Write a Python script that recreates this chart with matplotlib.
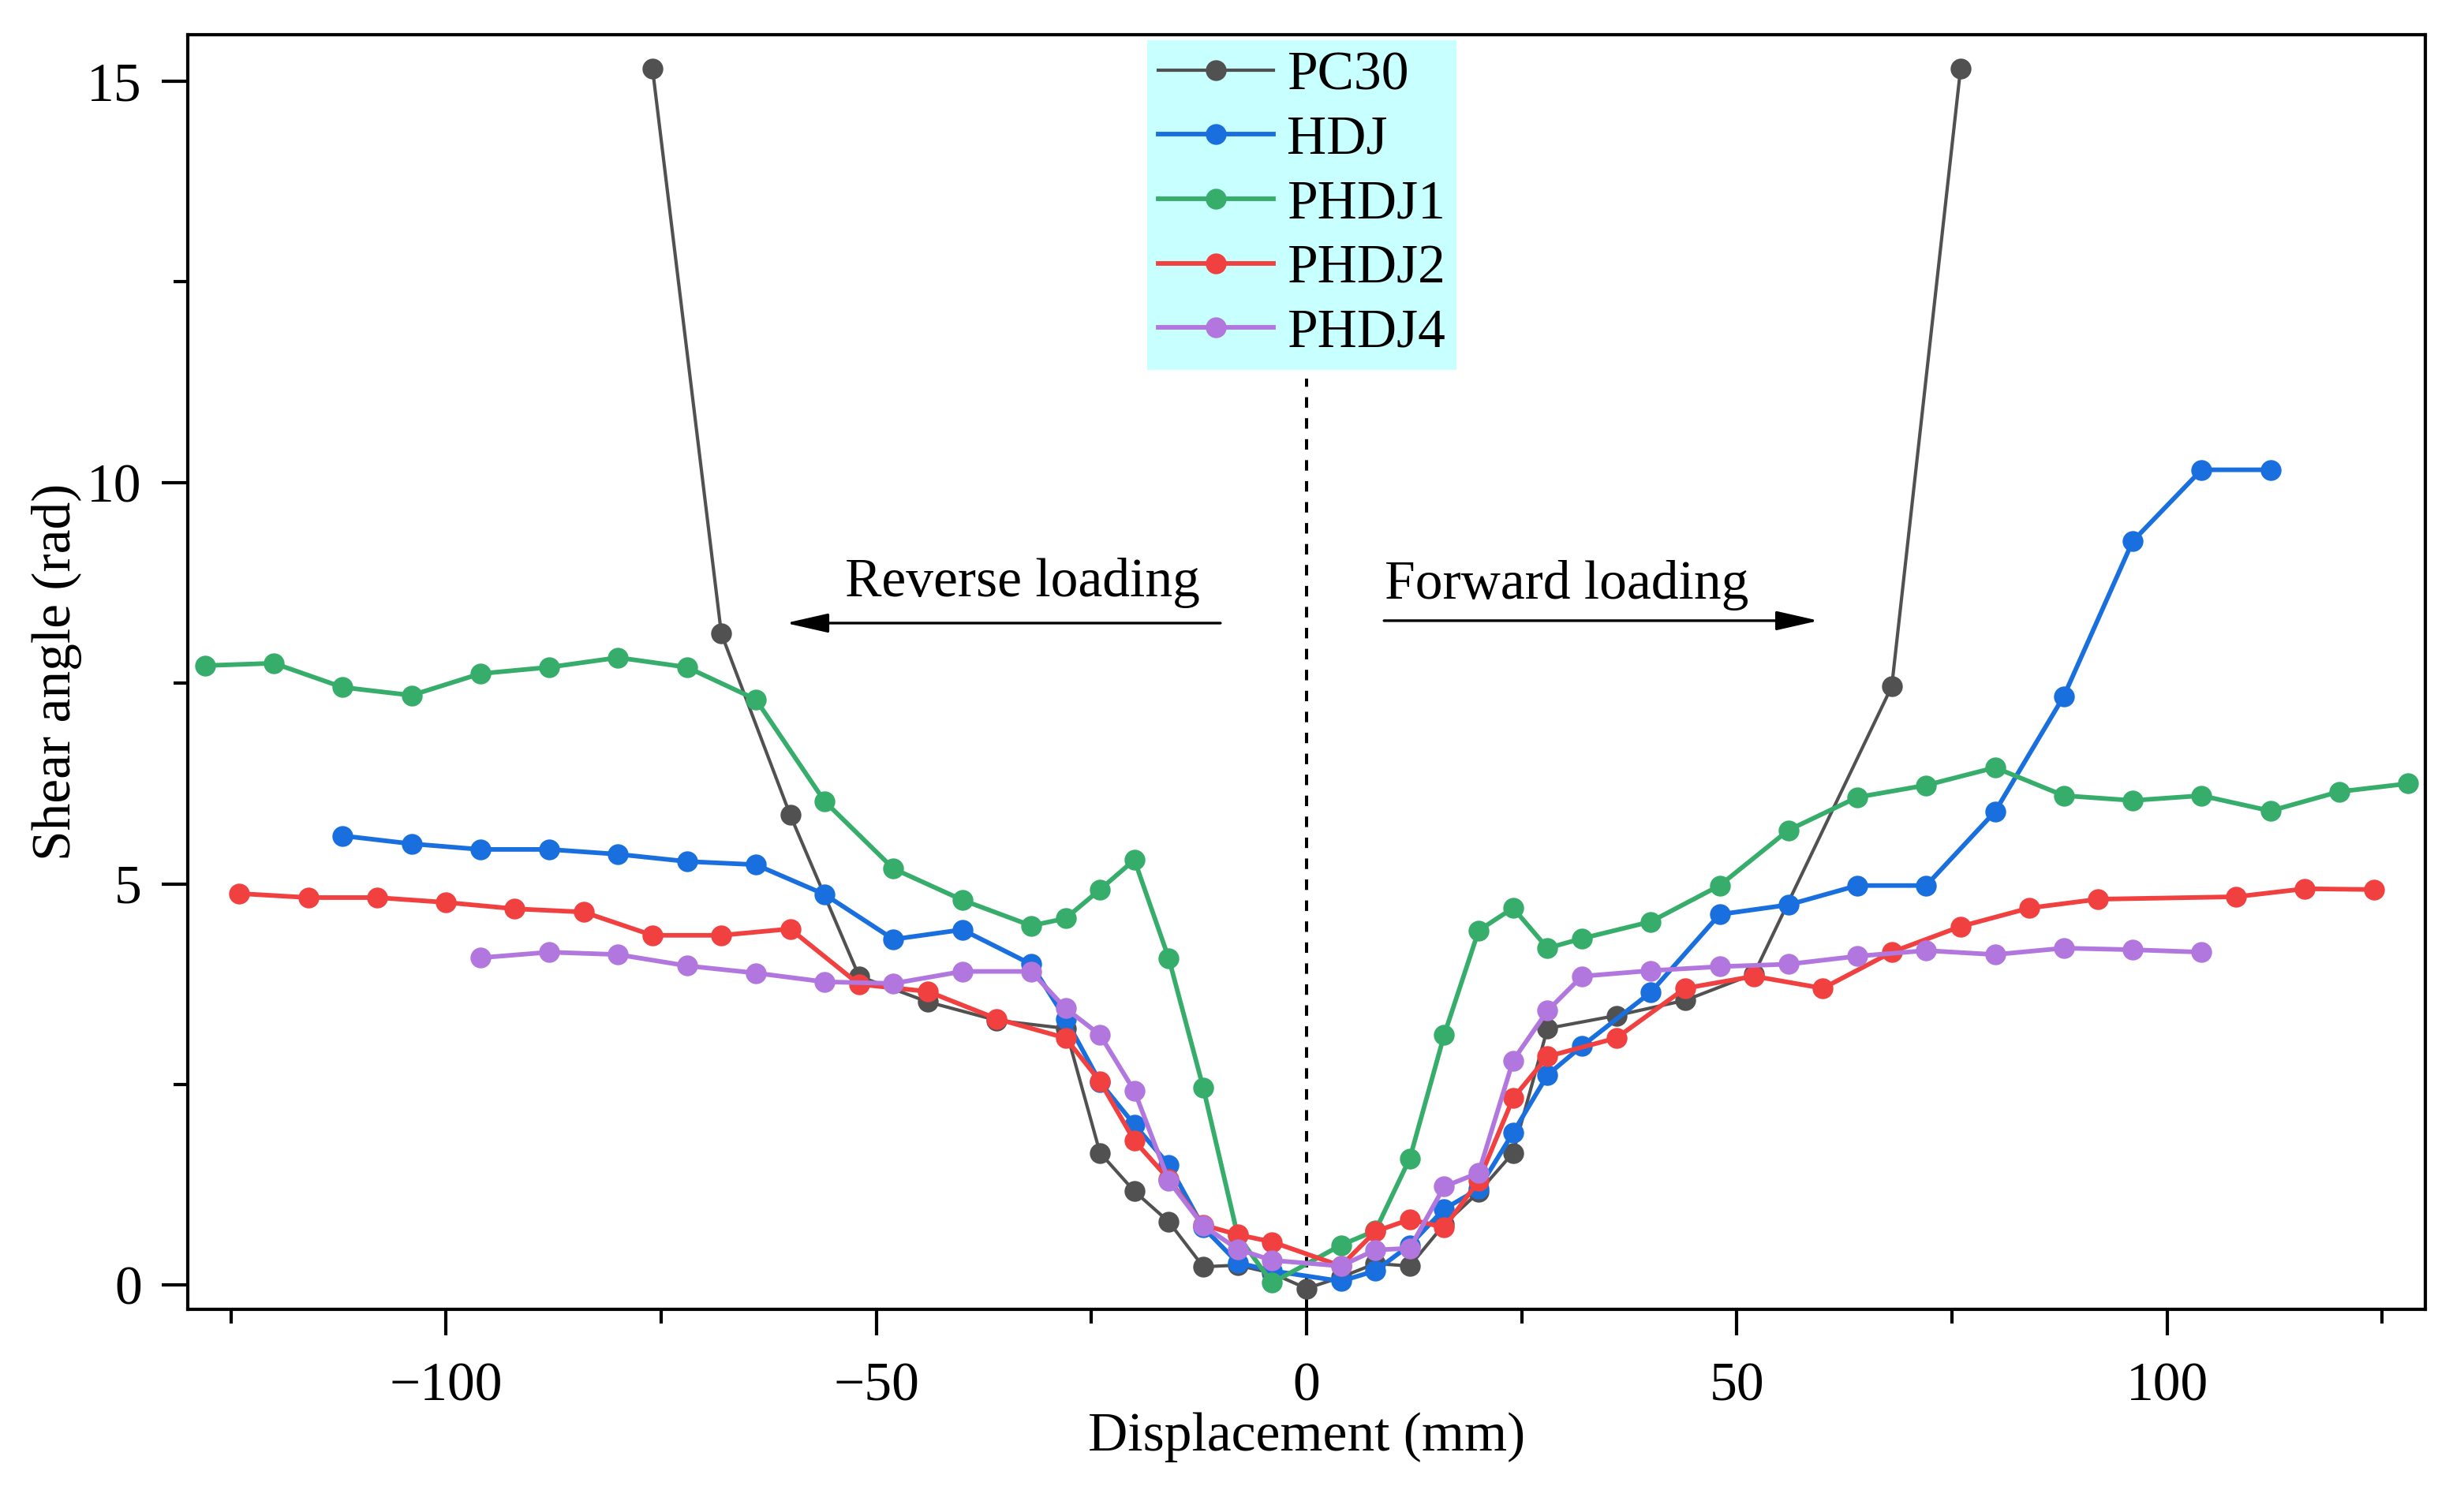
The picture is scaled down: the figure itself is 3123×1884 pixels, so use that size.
#!/usr/bin/env python3
"""
Shear angle vs displacement for the five specimens
"""
import matplotlib
matplotlib.use('Agg')
import matplotlib.pyplot as plt
from matplotlib.ticker import MultipleLocator

# displacement (mm) and shear angle (rad) for each specimen
pc30_x = [-76, -68, -60, -52, -44, -36, -28, -24, -20, -16, -12, -8, -4, 0,
          4, 8, 12, 16, 20, 24, 28, 36, 44, 52, 68, 76]
pc30_y = [15.16, 8.12, 5.86, 3.85, 3.53, 3.30, 3.20, 1.65, 1.17, 0.79, 0.23, 0.25, 0.15, -0.04,
          0.10, 0.27, 0.24, 0.76, 1.16, 1.65, 3.20, 3.36, 3.55, 3.88, 7.46, 15.16]

hdj_x = [-112, -104, -96, -88, -80, -72, -64, -56, -48, -40, -32, -28, -24, -20, -16, -12, -8, -4,
         4, 8, 12, 16, 20, 24, 28, 32, 40, 48, 56, 64, 72, 80, 88, 96, 104, 112]
hdj_y = [5.60, 5.50, 5.43, 5.43, 5.37, 5.28, 5.24, 4.87, 4.31, 4.43, 4.00, 3.32, 2.53, 2.00, 1.50, 0.72, 0.28, 0.18,
         0.05, 0.18, 0.50, 0.95, 1.20, 1.90, 2.62, 2.98, 3.65, 4.62, 4.74, 4.98, 4.98, 5.90, 7.34, 9.27, 10.16, 10.16]

phdj1_x = [-128, -120, -112, -104, -96, -88, -80, -72, -64, -56, -48, -40, -32, -28, -24, -20, -16, -12, -8, -4,
           4, 8, 12, 16, 20, 24, 28, 32, 40, 48, 56, 64, 72, 80, 88, 96, 104, 112, 120, 128]
phdj1_y = [7.72, 7.75, 7.45, 7.35, 7.62, 7.70, 7.82, 7.70, 7.30, 6.03, 5.19, 4.80, 4.48, 4.57, 4.93, 5.30, 4.07, 2.46, 0.62, 0.03,
           0.50, 0.68, 1.58, 3.12, 4.42, 4.70, 4.20, 4.32, 4.53, 4.98, 5.67, 6.08, 6.23, 6.45, 6.10, 6.04, 6.10, 5.91, 6.15, 6.25]

phdj2_x = [-124, -116, -108, -100, -92, -84, -76, -68, -60, -52, -44, -36, -28, -24, -20, -16, -12, -8, -4,
           4, 8, 12, 16, 20, 24, 28, 36, 44, 52, 60, 68, 76, 84, 92, 108, 116, 124]
phdj2_y = [4.88, 4.83, 4.83, 4.77, 4.69, 4.65, 4.36, 4.36, 4.44, 3.75, 3.66, 3.32, 3.08, 2.54, 1.80, 1.32, 0.75, 0.63, 0.54,
           0.24, 0.67, 0.82, 0.72, 1.30, 2.33, 2.85, 3.08, 3.70, 3.85, 3.70, 4.15, 4.47, 4.70, 4.81, 4.84, 4.94, 4.93]

phdj4_x = [-96, -88, -80, -72, -64, -56, -48, -40, -32, -28, -24, -20, -16, -12, -8, -4,
           4, 8, 12, 16, 20, 24, 28, 32, 40, 48, 56, 64, 72, 80, 88, 96, 104]
phdj4_y = [4.08, 4.15, 4.12, 3.98, 3.89, 3.78, 3.76, 3.91, 3.91, 3.45, 3.12, 2.42, 1.30, 0.74, 0.45, 0.31,
           0.24, 0.44, 0.46, 1.23, 1.40, 2.80, 3.42, 3.85, 3.92, 3.97, 4.00, 4.10, 4.17, 4.12, 4.20, 4.18, 4.15]

series = [
  ('PC30', pc30_x, pc30_y, '#515151', 1.5),
  ('HDJ', hdj_x, hdj_y, '#1a6fdf', 2.1),
  ('PHDJ1', phdj1_x, phdj1_y, '#37ad6b', 2.1),
  ('PHDJ2', phdj2_x, phdj2_y, '#f14040', 2.1),
  ('PHDJ4', phdj4_x, phdj4_y, '#b177de', 2.1),
]

FS = 25


def main():
  plt.rcParams['font.family'] = ['Liberation Serif', 'DejaVu Serif']
  plt.rcParams['font.size'] = FS
  plt.rcParams['axes.unicode_minus'] = True

  fig = plt.figure(figsize=(15.615, 9.42), dpi=200)
  ax = fig.add_axes([0.0762, 0.1189, 0.9081, 0.8577])

  ax.plot([0, 0], [-0.3, 11.3], color='black', lw=1.45, ls=(0, (3.3, 3.3)), zorder=1)

  for label, xs, ys, color, lw in series:
    ax.plot(xs, ys, color=color, lw=lw, marker='o', markersize=9.5,
            markeredgewidth=0, label=label, zorder=3)

  ax.set_xlim(-130, 130)
  ax.set_ylim(-0.3, 15.58)
  ax.xaxis.set_major_locator(MultipleLocator(50))
  ax.xaxis.set_minor_locator(MultipleLocator(25))
  ax.yaxis.set_major_locator(MultipleLocator(5))
  ax.yaxis.set_minor_locator(MultipleLocator(2.5))
  ax.tick_params(which='both', direction='out', width=1.5, top=False, right=False)
  ax.tick_params(which='major', length=12, labelsize=FS)
  ax.tick_params(which='minor', length=6.5)
  ax.tick_params(axis='x', which='major', pad=12)
  ax.tick_params(axis='y', which='major', pad=9)
  for sp in ax.spines.values():
    sp.set_linewidth(1.5)

  ax.set_xlabel('Displacement (mm)', fontsize=FS, labelpad=0)
  ax.set_ylabel('Shear angle (rad)', fontsize=FS, labelpad=2)

  arrow = dict(arrowstyle='-|>,head_length=0.66,head_width=0.15', color='black',
               lw=1.2, mutation_scale=25, shrinkA=0, shrinkB=0)
  ax.annotate('', xy=(-60.5, 8.25), xytext=(-10, 8.25), arrowprops=arrow)
  ax.annotate('', xy=(59.5, 8.28), xytext=(9, 8.28), arrowprops=arrow)
  ax.text(-33, 8.58, 'Reverse loading', ha='center', va='baseline', fontsize=FS)
  ax.text(30.2, 8.55, 'Forward loading', ha='center', va='baseline', fontsize=FS)

  leg = ax.legend(loc='upper center', bbox_to_anchor=(0.498, 0.996), frameon=True,
                  fancybox=False, facecolor='#c8ffff', edgecolor='none', framealpha=1,
                  handlelength=2.1, handletextpad=0.25, labelspacing=0.26,
                  borderpad=0.2, borderaxespad=0, fontsize=FS)
  leg.set_zorder(5)

  fig.savefig('out.png', dpi=200)


if __name__ == '__main__':
  main()
